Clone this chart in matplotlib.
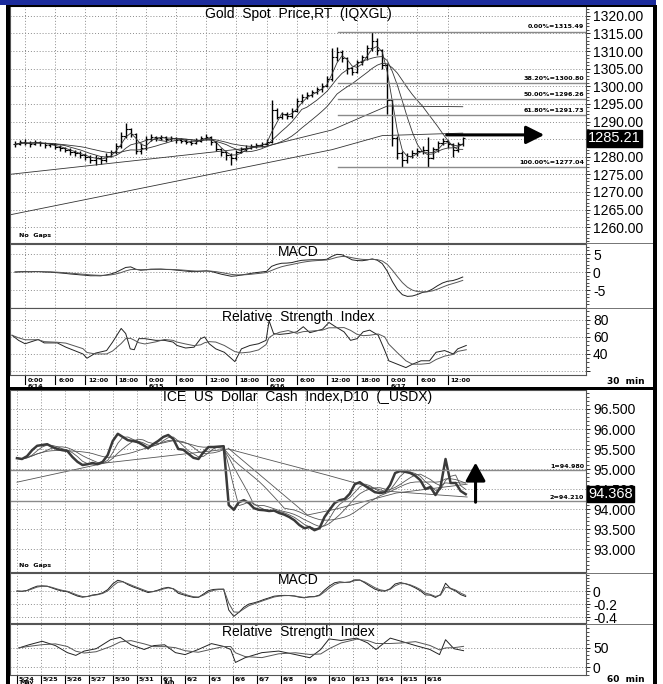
import numpy as np
import pandas as pd
import matplotlib as mpl
mpl.use('Agg')
import matplotlib.pyplot as plt
from matplotlib.patches import Rectangle
import matplotlib.transforms as mtransforms

plt.rcParams['font.family'] = ['Liberation Sans', 'DejaVu Sans']

W, H = 663, 684

# ---------------- gold, hourly bars (hours from 6/14 0:00)
gold_hours = list(range(-2, 88))
gold_close = [1283.5, 1284.2, 1284.0, 1283.6, 1284.3, 1283.8, 1283.2, 1283.5, 1282.8, 1282.4,
              1282.0, 1281.3, 1281.0, 1280.4, 1280.0, 1279.2, 1279.6, 1279.0, 1280.3, 1281.2,
              1283.0, 1285.8, 1287.9, 1286.4, 1281.6, 1282.6, 1285.0, 1285.6, 1285.3, 1285.5,
              1285.0, 1285.4, 1284.8, 1284.6, 1284.2, 1284.0, 1284.6, 1285.4, 1285.7, 1284.2,
              1282.3, 1281.2, 1280.6, 1279.6, 1281.4, 1282.1, 1282.6, 1283.0, 1283.4, 1283.6,
              1284.1, 1293.2, 1291.4, 1292.0, 1291.6, 1293.1, 1295.8, 1297.0, 1297.4, 1298.4,
              1299.1, 1300.2, 1302.0, 1308.2, 1309.8, 1308.0, 1305.2, 1304.1, 1306.8, 1308.2,
              1310.8, 1313.0, 1310.2, 1306.0, 1296.0, 1285.2, 1281.0, 1279.0, 1280.2, 1281.0,
              1281.6, 1282.0, 1279.6, 1282.1, 1284.0, 1284.4, 1283.6, 1282.0, 1283.6, 1285.21]
gold_high = [1284.4, 1284.8, 1284.9, 1284.5, 1284.8, 1284.6, 1284.2, 1284.0, 1283.9, 1283.2,
             1282.9, 1282.5, 1281.9, 1281.5, 1281.0, 1280.4, 1280.5, 1280.2, 1281.0, 1282.0,
             1284.0, 1287.0, 1289.5, 1288.2, 1286.8, 1283.8, 1285.9, 1286.4, 1286.0, 1286.1,
             1285.9, 1285.9, 1285.6, 1285.3, 1285.0, 1284.8, 1285.2, 1286.0, 1286.4, 1286.0,
             1284.6, 1282.6, 1281.6, 1281.0, 1282.0, 1282.8, 1283.2, 1283.6, 1284.0, 1284.2,
             1285.0, 1296.0, 1293.8, 1292.8, 1292.6, 1293.8, 1296.6, 1297.8, 1298.4, 1299.0,
             1299.8, 1301.0, 1302.8, 1311.0, 1311.2, 1310.2, 1308.4, 1305.6, 1307.6, 1309.0,
             1311.6, 1315.5, 1313.6, 1310.6, 1306.5, 1296.4, 1285.8, 1281.6, 1281.0, 1282.0,
             1282.4, 1283.0, 1285.6, 1282.8, 1284.6, 1285.2, 1284.8, 1283.8, 1284.2, 1285.6]
gold_low = [1282.8, 1283.2, 1283.4, 1282.8, 1283.2, 1283.0, 1282.6, 1282.7, 1282.2, 1281.6,
            1281.2, 1280.6, 1280.2, 1279.7, 1279.1, 1278.3, 1277.6, 1277.8, 1278.6, 1280.0,
            1280.8, 1282.6, 1285.2, 1285.6, 1280.8, 1280.9, 1282.0, 1284.6, 1284.6, 1284.7,
            1284.2, 1284.4, 1284.0, 1283.9, 1283.5, 1283.2, 1283.6, 1284.3, 1284.8, 1283.4,
            1281.7, 1280.1, 1279.2, 1277.6, 1279.2, 1281.0, 1281.6, 1282.1, 1282.5, 1282.8,
            1283.2, 1284.0, 1290.6, 1290.8, 1290.6, 1291.0, 1292.6, 1295.2, 1296.4, 1297.0,
            1297.8, 1298.5, 1299.7, 1301.6, 1307.2, 1306.8, 1303.6, 1303.2, 1303.8, 1306.0,
            1307.6, 1310.0, 1308.8, 1304.8, 1292.0, 1283.0, 1279.4, 1277.1, 1278.2, 1279.6,
            1280.2, 1280.8, 1277.2, 1279.4, 1281.4, 1283.2, 1282.6, 1280.0, 1281.2, 1283.0]
gold_ma_a_t = [-3, 61, 71, 87]
gold_ma_a = [1263.5, 1282.0, 1286.0, 1286.7]
gold_ma_b_t = [-3, 48, 61, 72, 87]
gold_ma_b = [1275.0, 1283.0, 1287.6, 1294.4, 1294.2]
gold_rsi_t = [-2.6, -1.3, 0, 2.6, 3.8, 6.4, 8.1, 9.8, 11.5, 12.3, 14, 16.2, 17.4, 19.1, 20,
              20.9, 21.7, 22.6, 23.8, 26, 27.7, 29.4, 30.2, 31.9, 33.6, 34.9, 35.7, 36.6, 37.9,
              39.6, 41.7, 43, 44.7, 46.4, 47.9, 48.5, 49.4, 50.6, 52.3, 54, 55.3, 56.6, 59.1,
              60.4, 61.7, 63.4, 64.7, 66, 67.2, 68.5, 70.2, 71.5, 72.3, 74, 75.7, 77, 78.7,
              80.4, 81.7, 83.4, 85.1, 86, 87.7]
gold_rsi = [62, 56, 52, 57, 53, 53, 48, 44, 40, 35, 41, 44, 54, 70, 64,
            46, 45, 58, 58, 56, 56, 54, 50, 47, 48, 58, 60, 52, 46,
            42, 31, 46, 50, 52, 56, 79, 64, 63, 64, 66, 72, 65, 69,
            77, 72, 66, 56, 58, 66, 68, 62, 44, 32, 28, 24, 28, 32,
            32, 42, 44, 40, 46, 50]
fib_names = ['0.00%', '38.20%', '50.00%', '61.80%', '100.00%']
fib_values = [1315.49, 1300.80, 1296.26, 1291.73, 1277.04]
gold_last = 1285.21
gold_day_names = ['6/14', '6/15', '6/16', '6/17']
gold_hour_names = ['0:00', '6:00', '12:00', '18:00']

# ---------------- USDX, one point per 0.21 trading day from 5/24
usdx_close = [95.27, 95.25, 95.32, 95.47, 95.58, 95.60, 95.62, 95.55, 95.50, 95.47,
              95.45, 95.30, 95.18, 95.10, 95.12, 95.15, 95.12, 95.18, 95.35, 95.70,
              95.88, 95.80, 95.72, 95.70, 95.67, 95.60, 95.52, 95.62, 95.70, 95.80,
              95.85, 95.75, 95.50, 95.48, 95.38, 95.28, 95.25, 95.42, 95.55, 95.55,
              95.56, 95.57, 94.10, 93.98, 94.17, 94.22, 94.15, 94.02, 93.98, 93.97,
              93.95, 93.96, 93.90, 93.86, 93.80, 93.72, 93.60, 93.52, 93.55, 93.47,
              93.52, 93.80, 93.98, 94.15, 94.22, 94.25, 94.38, 94.62, 94.67, 94.58,
              94.50, 94.42, 94.40, 94.42, 94.60, 94.90, 94.95, 94.93, 94.90, 94.83,
              94.72, 94.50, 94.55, 94.35, 94.55, 95.25, 94.65, 94.65, 94.45, 94.37]
usdx_ma_a_d = [0, 3.67, 8.8, 12.9, 15.3, 18.75]
usdx_ma_a = [94.67, 95.15, 95.50, 94.85, 94.45, 94.30]
usdx_ma_b_d = [8.8, 12.1, 13.3, 15.8, 18.75]
usdx_ma_b = [95.52, 93.85, 94.00, 94.40, 94.62]
usdx_rsi_d = [0.08, 0.5, 1.05, 1.6, 2.1, 2.45, 2.8, 3.3, 3.9, 4.3, 4.75, 5.3, 5.7, 6.15,
              6.6, 7.0, 7.55, 8.1, 8.6, 8.9, 9.1, 9.5, 10.2, 10.9, 11.6, 12.2, 12.65, 13.0,
              13.5, 14.15, 14.6, 14.95, 15.55, 16.0, 16.6, 17.2, 17.6, 17.85, 18.2, 18.6]
usdx_rsi = [49, 57, 66, 55, 37, 30, 41, 47, 70, 76, 57, 45, 55, 57,
            37, 32, 45, 60, 53, 45, 12, 24, 37, 41, 32, 24, 45, 72,
            68, 74, 62, 45, 74, 66, 55, 45, 32, 70, 47, 42]
usdx_levels = [94.980, 94.210]
usdx_last = 94.368
usdx_days = ['5/24', '5/25', '5/26', '5/27', '5/30', '5/31', '6/1', '6/2', '6/3', '6/6',
             '6/7', '6/8', '6/9', '6/10', '6/13', '6/14', '6/15', '6/16']

fig = plt.figure(figsize=(W / 100, H / 100), dpi=100)


def px_axes(x0, y0, x1, y1):
    return fig.add_axes([x0 / W, 1 - y1 / H, (x1 - x0) / W, (y1 - y0) / H])


def fig_rect(x0, y0, x1, y1, color):
    fig.add_artist(Rectangle((x0 / W, 1 - y1 / H), (x1 - x0) / W, (y1 - y0) / H,
                             transform=fig.transFigure, color=color, lw=0, zorder=10))


def style(ax, yticks, ylabels, ylim, xlim, xgrid):
    ax.set_xlim(*xlim)
    ax.set_ylim(*ylim)
    ax.set_yticks(yticks)
    ax.set_yticklabels(ylabels)
    ax.yaxis.tick_right()
    ax.set_xticks(xgrid)
    ax.set_xticklabels([])
    ax.tick_params(axis='x', length=0)
    ax.tick_params(axis='y', length=3, width=0.6, pad=2, labelsize=10)
    ax.minorticks_on()
    ax.tick_params(axis='y', which='minor', length=2, width=0.5, right=True, left=True)
    ax.tick_params(axis='x', which='minor', length=0)
    ax.grid(True, which='major', ls=(0, (1, 2)), color='#8c8c8c', lw=0.7)
    for s in ax.spines.values():
        s.set_color('#555555')
        s.set_linewidth(0.8)


def macd(close, fast, slow, sig):
    s = pd.Series(close)
    m = s.ewm(span=fast, adjust=False).mean() - s.ewm(span=slow, adjust=False).mean()
    return m, m.ewm(span=sig, adjust=False).mean()


small = dict(fontsize=4.6, fontweight='bold', family='DejaVu Sans')

# ================= gold =================
gt = np.array(gold_hours)
gc = pd.Series(gold_close)
gxlim = (-3, 111.5)
ggrid = np.arange(0, 85, 6)

ax_g = px_axes(10, 6, 586, 243)
ax_g.vlines(gt, gold_low, gold_high, color='black', lw=1.0)
gopen = [gold_close[0]] + gold_close[:-1]
ax_g.hlines(gopen, gt - 0.45, gt, color='black', lw=0.8)
ax_g.hlines(gold_close, gt, gt + 0.45, color='black', lw=0.8)
for w in (3, 7, 14):
    ax_g.plot(gt, gc.rolling(w, min_periods=1).mean(), color='#333333', lw=0.6)
ax_g.plot(gold_ma_a_t, gold_ma_a, color='#333333', lw=0.6)
ax_g.plot(gold_ma_b_t, gold_ma_b, color='#333333', lw=0.6)
gblend = mtransforms.blended_transform_factory(ax_g.transAxes, ax_g.transData)
for name, v in zip(fib_names, fib_values):
    ax_g.plot([62.2, 111.5], [v, v], color='#8a8a8a', lw=1.0)
    ax_g.text(0.997, v + 0.7, f'{name}={v:.2f}', transform=gblend,
              ha='right', va='bottom', **small)
ax_g.annotate('', xy=(103.2, 1286.2), xytext=(83.8, 1286.2),
              arrowprops=dict(arrowstyle='-|>,head_length=1.1,head_width=0.55',
                              lw=2.2, color='black', mutation_scale=10, shrinkA=0, shrinkB=0))
gyt = np.arange(1260, 1321, 5)
style(ax_g, gyt, ['' if v == 1285 else f'{v:.2f}' for v in gyt], (1255.5, 1322.8), gxlim, ggrid)
ax_g.yaxis.set_minor_locator(mpl.ticker.MultipleLocator(1))
ax_g.annotate(f'{gold_last:.2f}', xy=(1.0, gold_last), xycoords=('axes fraction', 'data'),
              xytext=(1.5, 0), textcoords='offset points', ha='left', va='center',
              color='white', fontsize=10.5,
              bbox=dict(boxstyle='square,pad=0.1', fc='black', ec='black'))
ax_g.text(0.5, 0.965, 'Gold  Spot  Price,RT  (IQXGL)', transform=ax_g.transAxes,
          ha='center', va='center', fontsize=10)
ax_g.text(0.015, 0.02, 'No  Gaps', transform=ax_g.transAxes, ha='left', va='bottom', **small)

g_macd, g_sig = macd(gold_close, 6, 13, 5)
ax_gm = px_axes(10, 244, 586, 308)
ax_gm.plot(gt, g_macd, color='#222222', lw=0.7)
ax_gm.plot(gt, g_sig, color='#555555', lw=0.7)
style(ax_gm, [5, 0, -5], ['5', '0', '-5'], (-10, 7.8), gxlim, ggrid)
ax_gm.text(0.5, 0.87, 'MACD', transform=ax_gm.transAxes, ha='center', va='center', fontsize=10)

g_rsi = pd.Series(gold_rsi)
ax_gr = px_axes(10, 308, 586, 375)
ax_gr.plot(gold_rsi_t, g_rsi, color='#222222', lw=0.7)
ax_gr.plot(gold_rsi_t, g_rsi.rolling(4, min_periods=1).mean(), color='#555555', lw=0.7)
style(ax_gr, [80, 60, 40, 20], ['80', '60', '40', ''], (15.3, 94), gxlim, ggrid)
ax_gr.text(0.5, 0.87, 'Relative  Strength  Index', transform=ax_gr.transAxes,
           ha='center', va='center', fontsize=10)

blend = mtransforms.blended_transform_factory(ax_gr.transData, fig.transFigure)
for i, h in enumerate(ggrid):
    ax_gr.plot([h, h], [1 - 376 / H, 1 - 384 / H], transform=blend, color='black',
               lw=0.8, clip_on=False)
    ax_gr.text(h + 0.6, 1 - 380 / H, gold_hour_names[i % 4], transform=blend,
               ha='left', va='center', **small)
    if i % 4 == 0:
        ax_gr.text(h + 0.6, 1 - 386 / H, gold_day_names[i // 4], transform=blend,
                   ha='left', va='center', **small)
fig.text(607 / W, 1 - 382 / H, '30  min', ha='left', va='center', fontsize=6.5,
         fontweight='bold', family='DejaVu Sans')

# ================= USDX =================
ud = np.arange(len(usdx_close)) * 0.21
uc = pd.Series(usdx_close)
uxlim = (-0.29, 23.7)
ugrid = np.arange(0, 18)

ax_u = px_axes(10, 390, 586, 572)
for w in (3, 6, 12):
    ax_u.plot(ud, uc.rolling(w, min_periods=1).mean(), color='#555555', lw=0.6)
ax_u.plot(usdx_ma_a_d, usdx_ma_a, color='#555555', lw=0.6)
ax_u.plot(usdx_ma_b_d, usdx_ma_b, color='#555555', lw=0.6)
ax_u.plot(ud, usdx_close, color='#3a3a3a', lw=1.8)
ublend = mtransforms.blended_transform_factory(ax_u.transAxes, ax_u.transData)
for i, v in enumerate(usdx_levels):
    ax_u.axhline(v, color='#8a8a8a', lw=1.0)
    ax_u.text(0.997, v + 0.02, f'{i + 1}={v:.3f}', transform=ublend,
              ha='right', va='bottom', **small)
ax_u.annotate('', xy=(19.1, 95.16), xytext=(19.1, 94.17),
              arrowprops=dict(arrowstyle='-|>,head_length=1.1,head_width=0.6',
                              lw=2.2, color='black', mutation_scale=10, shrinkA=0, shrinkB=0))
uyt = np.arange(93.0, 96.51, 0.5)
style(ax_u, uyt, [f'{v:.3f}' for v in uyt], (92.425, 96.975), uxlim, ugrid)
ax_u.yaxis.set_minor_locator(mpl.ticker.MultipleLocator(0.1))
ax_u.annotate(f'{usdx_last:.3f}', xy=(1.0, usdx_last), xycoords=('axes fraction', 'data'),
              xytext=(1.5, 0), textcoords='offset points', ha='left', va='center',
              color='white', fontsize=10.5,
              bbox=dict(boxstyle='square,pad=0.08', fc='black', ec='black'))
ax_u.text(0.5, 0.962, 'ICE  US  Dollar  Cash  Index,D10  (_USDX)', transform=ax_u.transAxes,
          ha='center', va='center', fontsize=10)
ax_u.text(0.015, 0.02, 'No  Gaps', transform=ax_u.transAxes, ha='left', va='bottom', **small)

u_macd, u_sig = macd(usdx_close, 3, 6, 2)
ax_um = px_axes(10, 573, 586, 623)
ax_um.plot(ud, u_macd, color='#222222', lw=0.7)
ax_um.plot(ud, u_sig, color='#555555', lw=0.7)
style(ax_um, [0, -0.2, -0.4], ['0', '-0.2', '-0.4'], (-0.49, 0.277), uxlim, ugrid)
ax_um.text(0.5, 0.85, 'MACD', transform=ax_um.transAxes, ha='center', va='center', fontsize=10)

u_rsi = pd.Series(usdx_rsi)
ax_ur = px_axes(10, 624, 586, 675)
ax_ur.plot(usdx_rsi_d, u_rsi, color='#222222', lw=0.7)
ax_ur.plot(usdx_rsi_d, u_rsi.rolling(3, min_periods=1).mean(), color='#555555', lw=0.7)
style(ax_ur, [50, 0], ['50', '0'], (-20, 110), uxlim, ugrid)
ax_ur.text(0.5, 0.85, 'Relative  Strength  Index', transform=ax_ur.transAxes,
           ha='center', va='center', fontsize=10)

blend_u = mtransforms.blended_transform_factory(ax_ur.transData, fig.transFigure)
for i, name in enumerate(usdx_days):
    ax_ur.plot([i, i], [1 - 676 / H, 1 - 684 / H], transform=blend_u, color='black',
               lw=0.8, clip_on=False)
    ax_ur.text(i + 0.08, 1 - 679 / H, name, transform=blend_u, ha='left', va='center', **small)
ax_ur.text(0.08, 1 - 682.5 / H, 'May', transform=blend_u, ha='left', va='center', **small)
ax_ur.text(6.08, 1 - 682.5 / H, 'Jun', transform=blend_u, ha='left', va='center', **small)
fig.text(607 / W, 1 - 680 / H, '60  min', ha='left', va='center', fontsize=6.5,
         fontweight='bold', family='DejaVu Sans')

# ================= frame =================
fig_rect(0, 0, 656, 5, '#1c2c9c')
fig_rect(6, 5, 10, 684, 'black')
fig_rect(653, 5, 657, 684, 'black')
fig_rect(6, 5, 657, 7, 'black')
fig_rect(6, 387, 657, 390, 'black')
for y in (243.5, 308):
    fig_rect(586, y, 653, y + 1, '#777777')
for y in (572.5, 623.5):
    fig_rect(586, y, 653, y + 1, '#777777')

fig.savefig('out.png', dpi=100)
